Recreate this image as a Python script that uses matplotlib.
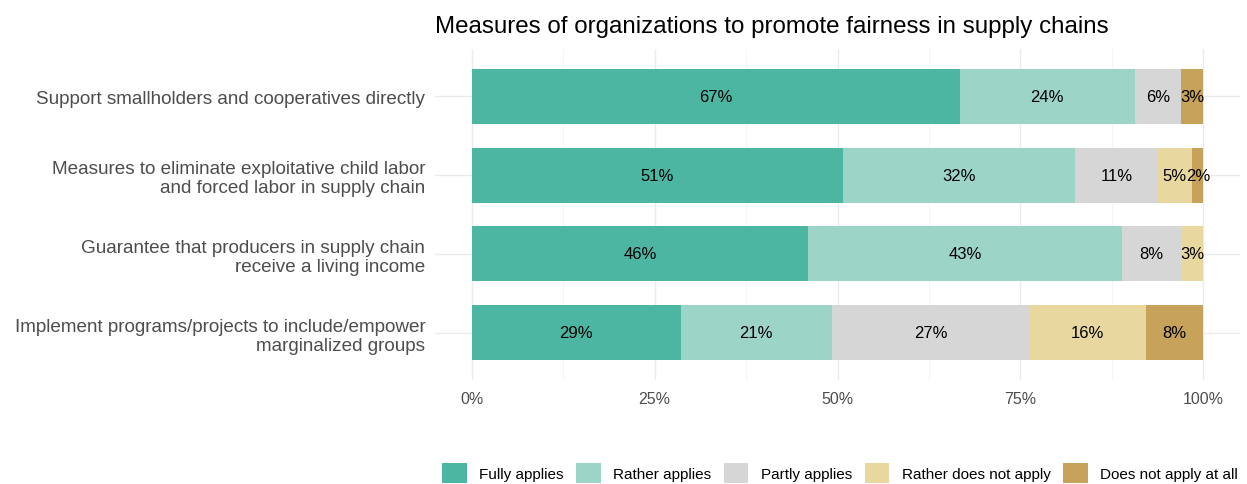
import numpy as np
import matplotlib
matplotlib.use("Agg")
import matplotlib.pyplot as plt
from matplotlib.patches import Patch

plt.rcParams["font.family"] = ["Liberation Sans", "DejaVu Sans"]

# data (shares in percent)
categories = [
    "Support smallholders and cooperatives directly",
    "Measures to eliminate exploitative child labor\nand forced labor in supply chain",
    "Guarantee that producers in supply chain\nreceive a living income",
    "Implement programs/projects to include/empower\nmarginalized groups",
]
levels = ["Fully applies", "Rather applies", "Partly applies",
          "Rather does not apply", "Does not apply at all"]
fully = [66.7, 50.8, 46.0, 28.6]
rather = [23.9, 31.7, 42.9, 20.6]
partly = [6.4, 11.2, 8.0, 27.0]
rather_not = [0.0, 4.8, 3.1, 15.9]
not_at_all = [3.0, 1.5, 0.0, 7.9]
colors = ["#4DB6A3", "#9CD4C8", "#D6D6D6", "#E8D8A0", "#C6A25A"]

series = [fully, rather, partly, rather_not, not_at_all]

fig = plt.figure(figsize=(12.47, 4.85), dpi=100)
ax = fig.add_axes([435 / 1247, 1 - 381 / 485, 805 / 1247, 331 / 485])

y = np.arange(len(categories))[::-1]
left = np.zeros(len(categories))
for vals, col, lab in zip(series, colors, levels):
    vals = np.array(vals)
    ax.barh(y, vals, left=left, height=0.7, color=col, label=lab, zorder=2)
    for yi, l, v in zip(y, left, vals):
        if v > 0:
            ax.text(l + v / 2, yi, f"{round(v):.0f}%", ha="center", va="center",
                    fontsize=12, color="black", zorder=3)
    left += vals

ax.set_xlim(-5, 105)
ax.set_ylim(-0.6, len(categories) - 0.4)
ax.set_xticks([0, 25, 50, 75, 100])
ax.set_xticklabels(["0%", "25%", "50%", "75%", "100%"])
ax.set_xticks([12.5, 37.5, 62.5, 87.5], minor=True)
ax.set_yticks(y)
ax.set_yticklabels(categories)
ax.grid(True, which="major", color="#EBEBEB", linewidth=1.0, zorder=0)
ax.grid(True, which="minor", axis="x", color="#F2F2F2", linewidth=0.6, zorder=0)
ax.set_axisbelow(True)
for s in ax.spines.values():
    s.set_visible(False)
ax.tick_params(axis="both", which="both", length=0, colors="#4D4D4D")
ax.tick_params(axis="y", labelsize=13.6, pad=7)
ax.tick_params(axis="x", labelsize=11.5, pad=8)
for t in ax.get_yticklabels():
    t.set_linespacing(1.15)

fig.text(435 / 1247, 1 - 27 / 485, "Measures of organizations to promote fairness in supply chains",
         fontsize=17.4, ha="left", va="center", color="black")

handles = [Patch(facecolor=c, edgecolor="none") for c in colors]
fig.legend(handles, levels, loc="center", bbox_to_anchor=(840 / 1247, 1 - 474 / 485),
           ncol=5, frameon=False, fontsize=11, handlelength=1.6, handleheight=1.6,
           columnspacing=0.85, handletextpad=0.8)

fig.savefig("out.png", dpi=100, facecolor="white")
